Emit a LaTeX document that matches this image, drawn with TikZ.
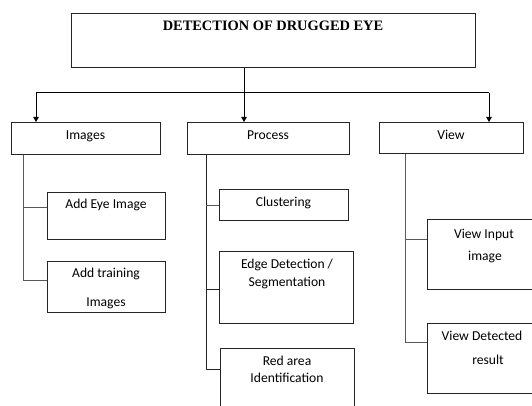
\documentclass[tikz,border=0pt]{standalone}
\usepackage{fontspec}
\setmainfont{Liberation Serif}
\newfontfamily\calfont{Carlito}
\usetikzlibrary{arrows.meta,calc}
\begin{document}
\begin{tikzpicture}[x=1pt,y=-1pt,
  box/.style={draw=black!85,line width=0.8pt,rectangle,inner sep=0pt,anchor=north west},
  conn/.style={draw=black!65,line width=1pt},
  arr/.style={draw=black,line width=0.9pt,-{Triangle[width=5.5pt,length=5pt]}},
  lbl/.style={inner sep=0pt,anchor=base,font=\calfont\fontsize{13.6}{16}\selectfont},
  ttl/.style={inner sep=0pt,anchor=base,font=\bfseries\fontsize{14.4}{17}\selectfont}]
\useasboundingbox (0,0) rectangle (532,406);
\clip (0,0) rectangle (532,406);
\fill[white] (0,0) rectangle (532,406);
% boxes
\node[box,minimum width=404pt,minimum height=54pt] (top) at (71,13) {};
\node[box,minimum width=149pt,minimum height=32pt] (img) at (11,122) {};
\node[box,minimum width=162pt,minimum height=32pt] (proc) at (187,122) {};
\node[box,minimum width=144pt,minimum height=31pt] (view) at (379,122) {};
\node[box,minimum width=118pt,minimum height=47pt] (add1) at (47,192) {};
\node[box,minimum width=118pt,minimum height=51pt] (add2) at (47,261) {};
\node[box,minimum width=129pt,minimum height=31pt] (clus) at (219,189) {};
\node[box,minimum width=134pt,minimum height=72pt] (edge) at (219,251) {};
\node[box,minimum width=134pt,minimum height=80pt] (red) at (220,348) {};
\node[box,minimum width=120pt,minimum height=70pt] (vin) at (427,219) {};
\node[box,minimum width=120pt,minimum height=70pt] (vdet) at (427,323) {};
% labels
\node[ttl] (t0) at (273,31) {DETECTION OF DRUGGED EYE};
\node[lbl] (t1) at (85.5,139.5) {Images};
\node[lbl] (t2) at (268,139.5) {Process};
\node[lbl] (t3) at (451,139.5) {View};
\node[lbl] (t4) at (106,208.5) {Add Eye Image};
\node[lbl] (t5) at (106,277.5) {Add training};
\node[lbl] (t6) at (106,306.5) {Images};
\node[lbl] (t7) at (283.5,206.5) {Clustering};
\node[lbl] (t8) at (287,268.5) {Edge Detection /};
\node[lbl] (t9) at (287,286.5) {Segmentation};
\node[lbl] (t10) at (287,365.5) {Red area};
\node[lbl] (t11) at (287,382.5) {Identification};
\node[lbl] (t12) at (484,238) {View Input};
\node[lbl] (t13) at (485,260.5) {image};
\node[lbl] (t14) at (482,340.5) {View Detected};
\node[lbl] (t15) at (488,364.5) {result};
% junction points
\coordinate (j) at (244,93);
\coordinate (ji) at (36,93);
\coordinate (jv) at (489,93);
% top connectors
\draw[conn,draw=black] (top.south -| j) -- (j);
\draw[conn,draw=black] (ji) -- (jv);
\draw[arr] (ji) -- (img.north -| ji);
\draw[arr] (j) -- (proc.north -| j);
\draw[arr] (jv) -- (view.north -| jv);
% images branch
\coordinate (ia) at (23,207);
\coordinate (ib) at (23,280);
\draw[conn] (img.south -| ia) -- (ib);
\draw[conn] (ia) -- (add1.west |- ia);
\draw[conn] (ib) -- (add2.west |- ib);
% process branch
\coordinate (pa) at (206,205);
\coordinate (pb) at (206,289);
\coordinate (pc) at (206,369);
\draw[conn,draw=black!85] (proc.south -| pa) -- (pc);
\draw[conn] (pa) -- (clus.west |- pa);
\draw[conn,draw=black!85] (pb) -- (edge.west |- pb);
\draw[conn,draw=black!85] (pc) -- (red.west |- pc);
% view branch
\coordinate (va) at (405,239);
\coordinate (vb) at (405,342);
\draw[conn] (view.south -| va) -- (vb);
\draw[conn] (va) -- (vin.west |- va);
\draw[conn] (vb) -- (vdet.west |- vb);
\end{tikzpicture}
\end{document}
